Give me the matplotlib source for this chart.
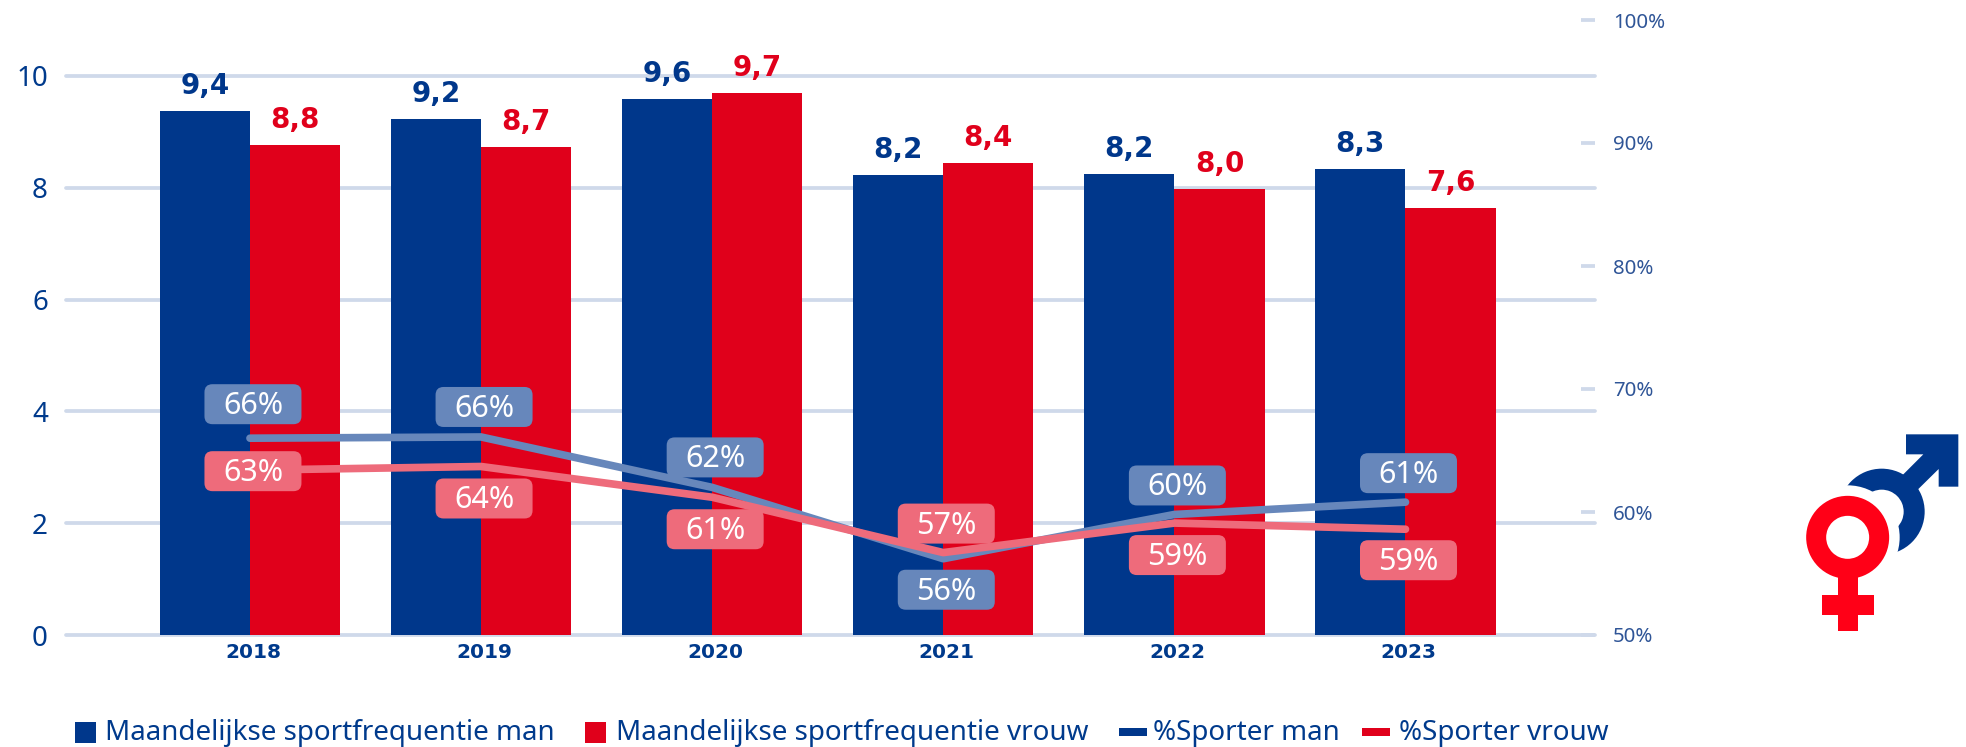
import numpy as np
import matplotlib.pyplot as plt
from matplotlib.patches import Rectangle, Circle, Polygon, FancyBboxPatch, Wedge
from matplotlib.transforms import IdentityTransform, ScaledTranslation

plt.rcParams["font.family"] = ["Noto Sans", "DejaVu Sans"]

years = ["2018", "2019", "2020", "2021", "2022", "2023"]
freq_man = [9.38, 9.23, 9.58, 8.22, 8.24, 8.34]
freq_vrouw = [8.76, 8.73, 9.70, 8.44, 7.98, 7.64]
pct_man = [66.0, 66.1, 62.0, 56.2, 59.8, 60.8]
pct_vrouw = [63.4, 63.7, 61.2, 56.7, 59.1, 58.6]
legend_labels = ["Maandelijkse sportfrequentie man", "Maandelijkse sportfrequentie vrouw", "%Sporter man", "%Sporter vrouw"]

# label offsets from the line point, in pixels
dy_man = [34, 30, 30, -31, 29, 29]
dy_vrouw = [-1, -32, -32, 29, -32, -31]

BLUE = "#00378b"
RED = "#e0001b"
LIGHT_BLUE = "#6787bb"
LIGHT_RED = "#ee6b7b"
GRID = "#cfd9ea"
TEXT = "#003a8c"
W, H = 1966, 747

fig = plt.figure(figsize=(W / 100, H / 100), dpi=100)
ax = fig.add_axes([66 / W, 1 - 635 / H, (1595 - 66) / W, 615 / H])
x = np.arange(len(years))
width = 0.39

ax.bar(x - width / 2, freq_man, width, color=BLUE, zorder=3)
ax.bar(x + width / 2, freq_vrouw, width, color=RED, zorder=3)
ax.set_xlim(-0.796, 5.82)
ax.set_ylim(0, 11)
ax.set_yticks(range(0, 11, 2))
ax.set_xticks(x, years)
ax.grid(axis="y", color=GRID, lw=2.7, zorder=0)
for line in ax.get_ygridlines():
    line.set_clip_on(False)
    line.set_solid_capstyle("round")
for side in ax.spines:
    ax.spines[side].set_visible(False)
ax.tick_params(axis="y", length=0, labelsize=20, labelcolor=TEXT, pad=13)
ax.tick_params(axis="x", length=0, pad=6)
for label in ax.get_xticklabels():
    label.set(family="DejaVu Sans", fontweight="bold", fontsize=14.5, color=TEXT)
    label.set_transform(label.get_transform() + ScaledTranslation(3 / 100, 0, fig.dpi_scale_trans))

for i in x:
    ax.annotate(f"{freq_man[i]:.1f}".replace(".", ","), (i - width / 2, freq_man[i]), xytext=(0, 11),
                textcoords="offset pixels", ha="center", va="bottom", family="DejaVu Sans",
                fontweight="bold", fontsize=20, color=BLUE, zorder=6)
    ax.annotate(f"{freq_vrouw[i]:.1f}".replace(".", ","), (i + width / 2, freq_vrouw[i]), xytext=(0, 11),
                textcoords="offset pixels", ha="center", va="bottom", family="DejaVu Sans",
                fontweight="bold", fontsize=20, color=RED, zorder=6)

ax2 = ax.twinx()
ax2.set_xlim(ax.get_xlim())
ax2.set_ylim(50, 100)
ax2.set_yticks(range(50, 101, 10), [f"{v}%" for v in range(50, 101, 10)])
for side in ax2.spines:
    ax2.spines[side].set_visible(False)
ax2.tick_params(axis="y", direction="in", length=10, width=2.7, color=GRID, labelsize=14.7,
                labelcolor="#2f5597", pad=13)
ax2.plot(x, pct_man, color=LIGHT_BLUE, lw=5.5, solid_capstyle="round", zorder=3)
ax2.plot(x, pct_vrouw, color=LIGHT_RED, lw=5.5, solid_capstyle="round", zorder=3)

# value bubbles: fixed size in pixels, so they are drawn in display space
for values, offsets, colour in [(pct_man, dy_man, LIGHT_BLUE), (pct_vrouw, dy_vrouw, LIGHT_RED)]:
    for i, (v, dy) in enumerate(zip(values, offsets)):
        px, py = ax2.transData.transform((i, v))
        ax2.add_patch(FancyBboxPatch((px + 3 - 42.5, py + dy - 14), 85, 28, boxstyle="round,pad=6,rounding_size=8",
                                     fc=colour, ec="none", transform=IdentityTransform(), clip_on=False, zorder=4))
        ax2.annotate(f"{v:.0f}%", (i, v), xytext=(3, dy - 2), textcoords="offset pixels", ha="center",
                     va="center", fontsize=22, color="white", zorder=5)

# overlay in image pixels for the legend and the gender symbols
ov = fig.add_axes([0, 0, 1, 1])
ov.set_xlim(0, W)
ov.set_ylim(H, 0)
ov.axis("off")
ov.patch.set_alpha(0)

ov.add_patch(Rectangle((75, 722), 21, 21, fc=BLUE, ec="none"))
ov.add_patch(Rectangle((585, 722), 21, 21, fc=RED, ec="none"))
ov.add_patch(Rectangle((1119, 728), 28, 8, fc=BLUE, ec="none"))
ov.add_patch(Rectangle((1362, 728), 28, 8, fc=RED, ec="none"))
for xpos, txt in zip([105, 616, 1153, 1399], legend_labels):
    ov.text(xpos, 733, txt, fontsize=20, color=TEXT, va="center", ha="left")

# male symbol
zx, zy = 1700, 400
def z(a, b):
    return (zx + a / 3, zy + b / 3)

ov.add_patch(Wedge(z(545, 335), 43, 0, 360, width=21, fc=BLUE, ec="none"))
ov.add_patch(Polygon([z(618, 103), z(775, 103), z(775, 260), z(716, 260), z(716, 207), z(650, 272), z(605, 228),
                      z(670, 163), z(618, 163)], closed=True, fc=BLUE, ec="none", joinstyle="round"))
# white halo cuts the male ring where the female ring sits in front
ov.add_patch(Circle(z(443, 412), 52, fc="white", ec="none"))
# female symbol
ov.add_patch(Rectangle(z(413, 520), 20, 58, fc="#ff0017", ec="none"))
ov.add_patch(Rectangle(z(365, 585), 52.5, 20, fc="#ff0017", ec="none"))
ov.add_patch(Wedge(z(443, 412), 41.5, 0, 360, width=20, fc="#ff0017", ec="none"))

fig.savefig("out.png", dpi=100)
